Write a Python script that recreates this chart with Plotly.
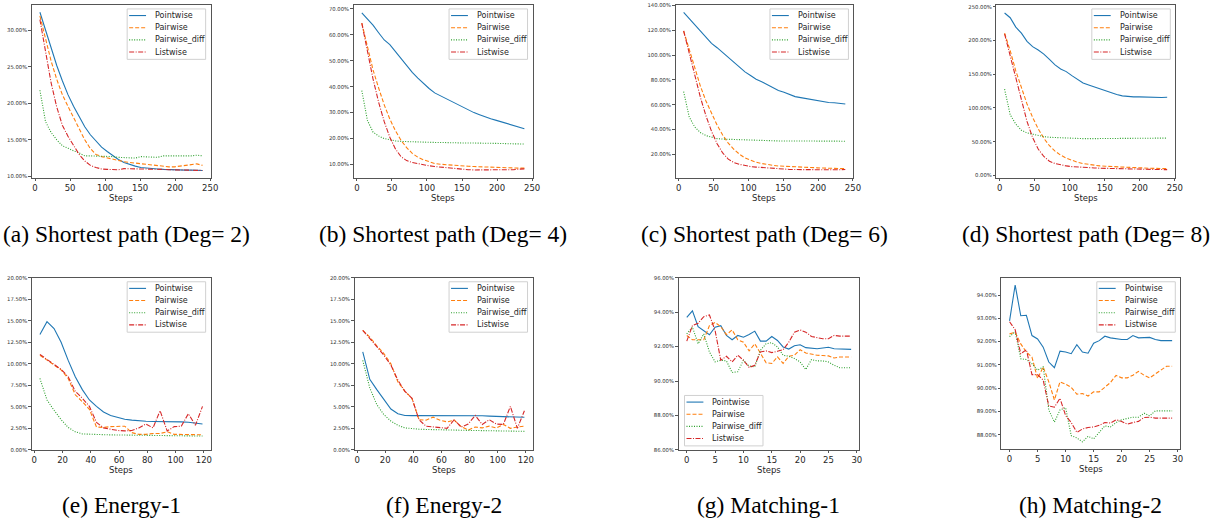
import plotly.graph_objects as go

W, H = 1227, 525

SERIES = ["Pointwise", "Pairwise", "Pairwise_diff", "Listwise"]
COLORS = ["#1f77b4", "#ff7f0e", "#2ca02c", "#d62728"]
DASHES = ["solid", "4px,2px", "1px,1.5px", "5px,1.5px,1px,1.5px"]

# evaluation steps
steps_sp = list(range(7, 240, 8))
steps_energy = list(range(4, 120, 5))
steps_match = list(range(0, 30))

# Shortest path, Deg = 2 (values in %)
sp2_point = [32.5, 30.0, 27.5, 25.2, 23.1, 21.2, 19.6, 18.1, 16.8, 15.7, 14.8, 14.0, 13.4, 12.8, 12.3,
             11.9, 11.6, 11.4, 11.2, 11.1, 11.0, 11.0, 10.95, 10.9, 10.9, 10.9, 10.85, 10.85, 10.8, 10.8]
sp2_pair = [32.0, 28.8, 25.8, 23.3, 21.2, 19.6, 18.0, 16.5, 15.0, 13.8, 13.0, 12.7, 12.5, 12.3, 12.1,
            12.0, 11.9, 11.8, 11.7, 11.6, 11.5, 11.4, 11.3, 11.3, 11.3, 11.4, 11.5, 11.6, 11.7, 11.5]
sp2_pdiff = [21.8, 17.5, 16.0, 15.0, 14.2, 13.8, 13.5, 13.2, 12.8, 12.8, 12.8, 12.7, 12.7, 12.7, 12.6,
             12.6, 12.5, 12.5, 12.7, 12.7, 12.6, 12.6, 12.8, 12.8, 12.8, 12.7, 12.8, 12.8, 12.9, 12.8]
sp2_list = [31.5, 27.0, 22.8, 19.5, 17.0, 15.5, 14.2, 13.0, 12.1, 11.5, 11.2, 11.0, 10.95, 10.9, 10.9,
            11.05, 11.05, 11.0, 11.0, 11.0, 10.95, 10.95, 10.95, 10.9, 10.9, 10.9, 10.9, 10.85, 10.85, 10.8]

# Shortest path, Deg = 4
sp4_point = [68.5, 66.3, 63.7, 60.8, 58.0, 56.2, 53.5, 51.0, 48.3, 45.5, 43.3, 41.2, 39.3, 37.6, 36.5,
             35.3, 34.2, 33.0, 32.0, 31.0, 30.0, 29.2, 28.3, 27.6, 27.0, 26.4, 25.8, 25.0, 24.3, 23.8]
sp4_pair = [64.5, 55.0, 46.5, 39.5, 33.0, 27.5, 23.0, 19.3, 16.5, 14.3, 12.8, 11.8, 11.0, 10.4, 10.1,
            9.9, 9.7, 9.5, 9.4, 9.3, 9.2, 9.1, 9.0, 8.9, 8.8, 8.7, 8.7, 8.6, 8.6, 8.6]
sp4_pdiff = [38.5, 27.0, 22.5, 21.0, 20.0, 19.4, 19.1, 18.9, 18.8, 18.7, 18.6, 18.6, 18.5, 18.5, 18.5,
             18.4, 18.4, 18.4, 18.3, 18.3, 18.3, 18.2, 18.2, 18.2, 18.1, 18.1, 18.0, 18.0, 17.9, 17.9]
sp4_list = [64.5, 53.0, 43.0, 34.0, 26.5, 20.5, 16.0, 13.0, 11.5, 10.8, 10.3, 9.8, 9.5, 9.2, 9.0,
            8.7, 8.4, 8.2, 8.1, 8.0, 7.9, 7.9, 7.8, 7.8, 7.8, 7.9, 7.9, 8.0, 8.2, 8.3]

# Shortest path, Deg = 6
sp6_point = [134.5, 129.5, 124.0, 119.5, 114.0, 109.5, 106.0, 102.0, 98.0, 94.0, 90.0, 86.5, 83.5, 80.5, 78.5,
             76.3, 74.0, 71.5, 70.0, 68.3, 66.5, 65.7, 64.8, 64.0, 63.2, 62.3, 61.8, 61.6, 61.0, 60.5]
sp6_pair = [119.5, 104.0, 89.0, 75.0, 63.0, 53.0, 43.5, 35.5, 29.0, 24.0, 20.0, 17.0, 15.0, 13.5, 12.5,
            11.6, 11.0, 10.5, 10.2, 10.0, 9.8, 9.6, 9.4, 9.2, 9.0, 8.8, 8.6, 8.5, 8.4, 8.3]
sp6_pdiff = [70.5, 50.0, 42.0, 37.5, 35.0, 33.5, 32.6, 32.2, 32.0, 31.8, 31.6, 31.4, 31.2, 31.0, 30.9,
             30.8, 30.8, 30.7, 30.7, 30.7, 30.7, 30.6, 30.6, 30.6, 30.6, 30.5, 30.5, 30.5, 30.5, 30.5]
sp6_list = [119.5, 101.0, 83.0, 66.0, 51.0, 38.5, 28.5, 21.0, 16.0, 13.3, 11.8, 10.7, 10.0, 9.6, 9.2,
            8.8, 8.4, 8.0, 7.8, 7.7, 7.6, 7.5, 7.4, 7.3, 7.3, 7.3, 7.3, 7.4, 7.5, 7.6]

# Shortest path, Deg = 8
sp8_point = [241, 234, 220, 211, 199, 191, 186, 180, 172, 164, 158, 154, 148, 143, 137,
             134, 131, 128, 125, 122, 120, 118, 117, 116.5, 116.5, 116, 115.5, 115, 115.5, 116]
sp8_pair = [211, 185, 155, 130, 106, 86, 69, 55, 44, 36, 30, 25.5, 22, 19.5, 17.5,
            16, 15, 14, 13.5, 13, 12.5, 12, 11.5, 11.2, 11, 10.7, 10.5, 10.3, 10.1, 10]
sp8_pdiff = [128, 90, 76, 67, 63, 61, 59, 57.5, 56.5, 56, 55.5, 55, 54.8, 54.6, 54.5,
             54.5, 54.3, 54.5, 54.6, 54.7, 54.8, 55, 55.2, 55.2, 55.3, 55.3, 55.3, 55.2, 55.2, 55.2]
sp8_list = [210, 178, 143, 110, 80, 56, 39, 28, 21, 17.5, 15.5, 14, 13, 12.3, 11.8,
            11.3, 11, 10.6, 10.3, 10, 9.8, 9.6, 9.4, 9.2, 9, 8.9, 8.8, 8.7, 8.6, 8.5]

# Energy-1
en1_point = [13.4, 14.9, 14.1, 12.5, 10.4, 8.5, 7.0, 5.8, 5.05, 4.4, 4.0, 3.75, 3.55, 3.45, 3.37, 3.33,
             3.3, 3.3, 3.3, 3.3, 3.25, 3.2, 3.1, 3.0]
en1_pair = [11.0, 10.4, 9.85, 9.3, 8.3, 6.4, 5.6, 4.7, 2.65, 2.6, 2.7, 2.7, 2.75, 2.0, 1.8, 1.8,
            1.9, 1.9, 2.1, 1.8, 1.8, 1.8, 1.8, 1.75]
en1_pdiff = [8.3, 5.8, 4.6, 3.5, 2.6, 2.1, 1.85, 1.8, 1.78, 1.76, 1.74, 1.73, 1.72, 1.71, 1.7, 1.7,
             1.69, 1.68, 1.67, 1.66, 1.65, 1.64, 1.62, 1.6]
en1_list = [11.1, 10.5, 9.95, 9.35, 8.5, 6.8, 6.0, 5.05, 3.2, 2.55, 2.4, 2.25, 2.2, 2.25, 2.55, 3.0,
            2.55, 4.55, 2.2, 2.7, 2.75, 4.2, 2.85, 5.05]

# Energy-2
en2_point = [11.4, 8.2, 7.0, 5.8, 4.75, 4.2, 4.0, 3.98, 3.98, 3.98, 3.99, 4.0, 4.02, 4.03, 4.03, 4.0,
             3.98, 3.96, 3.92, 3.9, 3.86, 3.84, 3.8, 3.78]
en2_pair = [13.9, 13.1, 12.1, 11.2, 10.0, 7.9, 6.8, 6.0, 3.5, 3.45, 3.8, 3.45, 3.25, 3.45, 2.7, 2.3,
            2.65, 2.55, 2.75, 2.55, 2.95, 2.5, 2.65, 2.75]
en2_pdiff = [10.4, 7.2, 5.25, 4.1, 3.35, 2.85, 2.55, 2.45, 2.4, 2.37, 2.34, 2.32, 2.3, 2.28, 2.27, 2.26,
             2.25, 2.24, 2.23, 2.22, 2.2, 2.18, 2.16, 2.15]
en2_list = [13.9, 13.0, 12.0, 11.0, 9.85, 8.1, 6.8, 6.0, 3.5, 2.75, 2.65, 2.6, 2.5, 3.5, 2.65, 3.0,
            4.0, 2.95, 3.5, 3.0, 2.95, 5.05, 2.5, 4.55]

# Matching-1
m1_point = [93.7, 94.08, 93.16, 92.93, 92.69, 93.13, 93.22, 92.65, 92.4, 92.65, 92.55, 92.7, 92.9, 92.32, 92.32,
            92.59, 92.36, 91.98, 91.86, 92.05, 92.11, 91.94, 91.92, 91.88, 91.92, 91.96, 91.88, 91.86, 91.86, 91.84]
m1_pair = [92.65, 92.4, 92.4, 92.4, 93.22, 93.41, 93.16, 92.7, 92.97, 92.4, 92.26, 91.75, 92.17, 91.6, 91.06,
           91.02, 91.4, 91.02, 91.44, 91.5, 91.82, 91.63, 91.56, 91.5, 91.48, 91.46, 91.34, 91.4, 91.4, 91.4]
m1_pdiff = [92.74, 93.13, 92.17, 92.74, 91.69, 91.11, 91.21, 91.17, 90.5, 90.54, 91.21, 90.87, 90.83, 91.79, 92.17,
            92.23, 91.98, 91.5, 91.44, 91.31, 91.11, 90.67, 91.25, 91.17, 91.17, 91.11, 90.92, 90.77, 90.77, 90.77]
m1_list = [92.32, 93.22, 93.36, 93.74, 93.84, 92.93, 91.21, 91.44, 91.11, 91.5, 91.21, 90.79, 90.92, 91.69, 91.75,
           91.65, 91.73, 91.82, 92.26, 92.84, 92.97, 92.84, 92.59, 92.51, 92.46, 92.46, 92.65, 92.61, 92.61, 92.61]

# Matching-2
m2_point = [92.89, 94.43, 93.11, 93.13, 92.26, 92.11, 91.76, 91.12, 90.88, 91.59, 91.55, 91.48, 91.87, 91.55, 91.5,
            91.93, 92.04, 92.23, 92.16, 92.11, 92.09, 92.09, 92.26, 92.16, 92.16, 92.18, 92.09, 92.04, 92.04, 92.04]
m2_pair = [92.33, 92.4, 91.9, 91.55, 91.33, 90.41, 90.91, 90.27, 89.49, 90.27, 90.17, 90.03, 89.74, 89.77, 89.66,
           89.84, 89.84, 90.03, 90.24, 90.55, 90.44, 90.44, 90.55, 90.72, 90.55, 90.44, 90.62, 90.79, 90.94, 90.94]
m2_pdiff = [92.21, 92.43, 91.26, 91.23, 91.05, 90.77, 90.91, 89.06, 88.54, 89.06, 89.16, 87.96, 87.86, 87.69, 87.93,
            87.82, 88.1, 88.38, 88.33, 88.52, 88.64, 88.71, 88.75, 88.75, 88.92, 88.81, 89.02, 89.02, 89.02, 89.02]
m2_list = [92.85, 92.51, 91.48, 91.65, 90.58, 90.58, 90.34, 89.23, 89.18, 89.56, 88.82, 88.52, 88.1, 88.24, 88.31,
           88.33, 88.4, 88.52, 88.5, 88.64, 88.57, 88.45, 88.52, 88.57, 88.74, 88.75, 88.71, 88.71, 88.71, 88.71]

captions = ["(a) Shortest path (Deg= 2)", "(b) Shortest path (Deg= 4)",
            "(c) Shortest path (Deg= 6)", "(d) Shortest path (Deg= 8)",
            "(e) Energy-1", "(f) Energy-2", "(g) Matching-1", "(h) Matching-2"]

# panel layout: axes box in pixels (left, top, right, bottom), axis ranges, tick steps, legend corner
panels = [
    dict(x=steps_sp, ys=[sp2_point, sp2_pair, sp2_pdiff, sp2_list], box=(32, 2, 212, 177),
         xr=[-4.6, 250.6], yr=[9.77, 33.5], xd=50, yd=5, leg="ur", cap_y=234),
    dict(x=steps_sp, ys=[sp4_point, sp4_pair, sp4_pdiff, sp4_list], box=(356, 2, 536, 177),
         xr=[-4.6, 250.6], yr=[4.8, 71.5], xd=50, yd=10, leg="ur", cap_y=234),
    dict(x=steps_sp, ys=[sp6_point, sp6_pair, sp6_pdiff, sp6_list], box=(680, 2, 859, 177),
         xr=[-4.6, 250.6], yr=[0.8, 140.5], xd=50, yd=20, leg="ur", cap_y=234),
    dict(x=steps_sp, ys=[sp8_point, sp8_pair, sp8_pdiff, sp8_list], box=(1003, 2, 1183, 177),
         xr=[-4.6, 250.6], yr=[-3.9, 252.9], xd=50, yd=50, leg="ur", cap_y=234),
    dict(x=steps_energy, ys=[en1_point, en1_pair, en1_pdiff, en1_list], box=(32, 278, 212, 452),
         xr=[-1.75, 124.75], yr=[0, 20], xd=20, yd=2.5, leg="ur", cap_y=508),
    dict(x=steps_energy, ys=[en2_point, en2_pair, en2_pdiff, en2_list], box=(357, 278, 536, 452),
         xr=[-1.75, 124.75], yr=[0, 20], xd=20, yd=2.5, leg="ur", cap_y=508),
    dict(x=steps_match, ys=[m1_point, m1_pair, m1_pdiff, m1_list], box=(683, 278, 865, 452),
         xr=[-1.45, 30.45], yr=[86, 96], xd=5, yd=2, leg="ll", cap_y=508),
    dict(x=steps_match, ys=[m2_point, m2_pair, m2_pdiff, m2_list], box=(1008, 278, 1188, 451),
         xr=[-1.45, 30.45], yr=[87.39, 94.74], xd=5, yd=1, leg="ur", cap_y=508),
]

TICK_FONT = dict(family="DejaVu Sans", size=8.5, color="#262626")
YTICK_FONT = dict(family="DejaVu Sans", size=5.3, color="#333333")
LEG_FONT = dict(family="DejaVu Sans", size=8, color="#262626")
CAP_FONT = dict(family="Liberation Serif", size=23.5, color="#000000")


def px(x):
    return x / W


def py(y):
    return 1 - y / H


fig = go.Figure()
shapes, annotations = [], []

for i, p in enumerate(panels):
    n = i + 1
    sfx = "" if n == 1 else str(n)
    xa, ya = "x" + sfx, "y" + sfx
    left, top, right, bottom = p["box"]

    for name, color, dash, vals in zip(SERIES, COLORS, DASHES, p["ys"]):
        fig.add_trace(go.Scatter(
            x=p["x"], y=[v / 100 for v in vals], mode="lines", name=name,
            line=dict(color=color, width=1.1, dash=dash),
            xaxis=xa, yaxis=ya, showlegend=False))

    common = dict(showline=True, mirror=True, linecolor="#555555", linewidth=1,
                  ticks="outside", tickcolor="#555555", tickwidth=1,
                  showgrid=False, zeroline=False)
    fig.update_layout(**{
        "xaxis" + sfx: dict(domain=[px(left), px(right)], anchor=ya, range=p["xr"], ticklen=2,
                            tick0=0, dtick=p["xd"], tickfont=TICK_FONT, **common),
        "yaxis" + sfx: dict(domain=[py(bottom), py(top)], anchor=xa, ticklen=2.5,
                            range=[r / 100 for r in p["yr"]], tick0=0, dtick=p["yd"] / 100,
                            tickformat=".2%", tickfont=YTICK_FONT, **common),
    })

    cx = (left + right) / 2
    annotations.append(dict(text="Steps", x=px(cx), y=py(bottom + 20), xref="paper", yref="paper",
                            showarrow=False, xanchor="center", yanchor="middle",
                            font=dict(family="DejaVu Sans", size=8.5, color="#262626")))
    # the first caption sits against the left page edge
    if i == 0:
        cap_x, cap_anchor = px(1), "left"
    else:
        cap_x, cap_anchor = px(cx), "center"
    annotations.append(dict(text=captions[i], x=cap_x, y=py(p["cap_y"]), xref="paper", yref="paper",
                            showarrow=False, xanchor=cap_anchor, yanchor="middle", font=CAP_FONT))

    # legend frame with line samples
    bw, bh = 79, 51
    if p["leg"] == "ur":
        bx0, by0 = right - 5 - bw, top + 4
    else:
        bx0, by0 = left + 6, bottom - 4 - bh
    shapes.append(dict(type="rect", xref="paper", yref="paper",
                       x0=px(bx0), x1=px(bx0 + bw), y0=py(by0 + bh), y1=py(by0),
                       line=dict(color="#d0d0d0", width=1), fillcolor="rgba(255,255,255,0.85)",
                       layer="above"))
    for k, (name, color, dash) in enumerate(zip(SERIES, COLORS, DASHES)):
        ry = by0 + 6.7 + 12.3 * k
        shapes.append(dict(type="line", xref="paper", yref="paper",
                           x0=px(bx0 + 2), x1=px(bx0 + 19), y0=py(ry), y1=py(ry),
                           line=dict(color=color, width=1.1, dash=dash), layer="above"))
        annotations.append(dict(text=name, x=px(bx0 + 26), y=py(ry), xref="paper", yref="paper",
                                showarrow=False, xanchor="left", yanchor="middle", font=LEG_FONT))

fig.update_layout(width=W, height=H, margin=dict(l=0, r=0, t=0, b=0),
                  paper_bgcolor="white", plot_bgcolor="white",
                  shapes=shapes, annotations=annotations, showlegend=False)

fig.write_html("out.html")
